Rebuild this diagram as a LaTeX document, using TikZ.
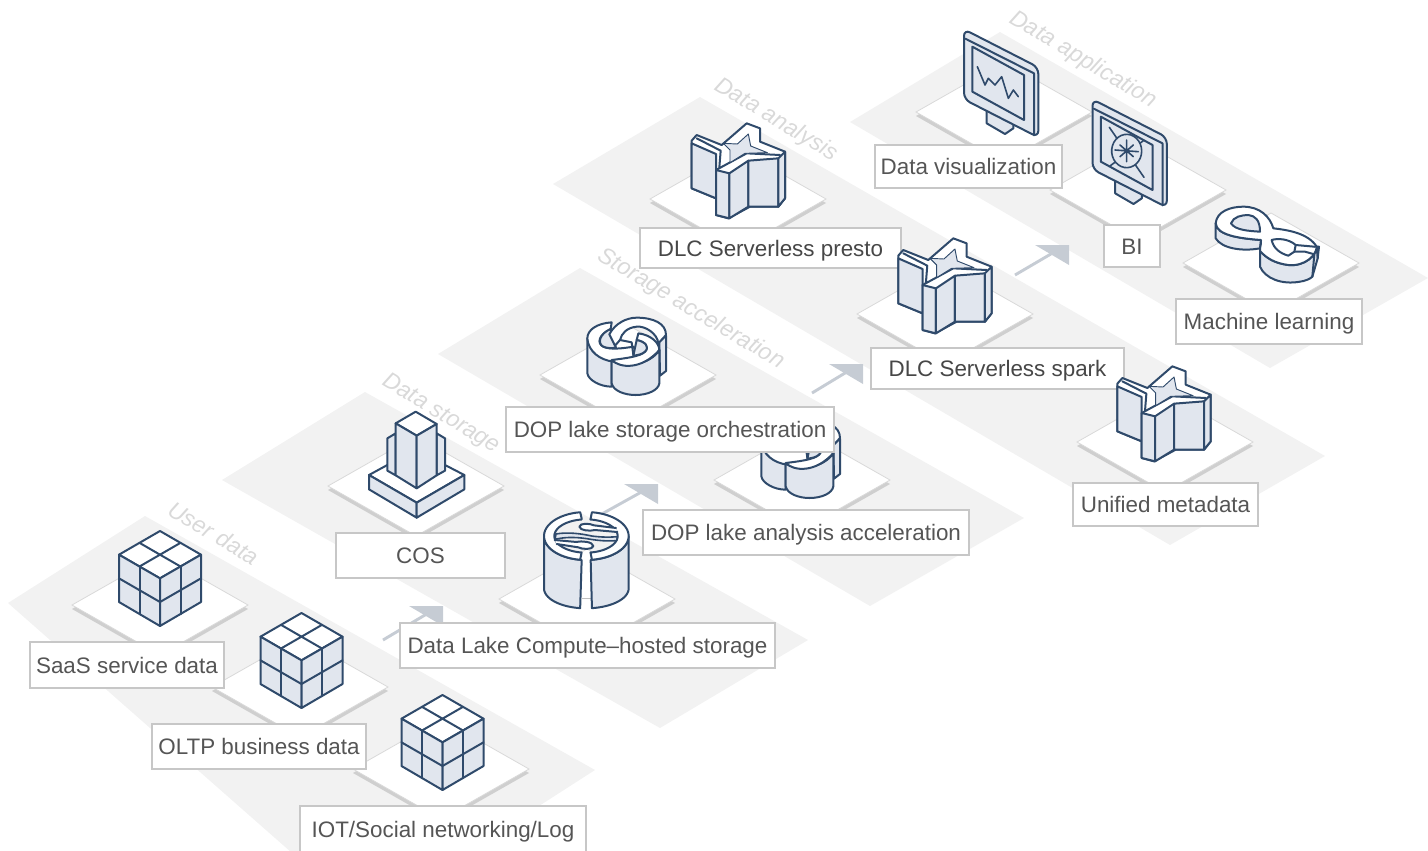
\documentclass[tikz,border=0pt]{standalone}
\usepackage{fontspec}
\setmainfont{Liberation Sans}
\definecolor{navy}{HTML}{2F4A6B}
\definecolor{face}{HTML}{E1E6EE}
\definecolor{band}{HTML}{F2F2F2}
\definecolor{flowc}{HTML}{C6CCD4}
\definecolor{shadowc}{HTML}{CFCFCF}
\definecolor{txt}{HTML}{555555}
\definecolor{bandtxt}{HTML}{D9D9D9}
\newcommand\lab[6]{\node[lbl,minimum width={(#4-#2)*.75pt},minimum height={(#5-#3)*.75pt}] (#1) at ({(#2+#4)/2},{(#3+#5)/2}) {#6};}
\newcommand\blab[6]{\node[lbl,text=black!72,minimum width={(#4-#2)*.75pt},minimum height={(#5-#3)*.75pt}] (#1) at ({(#2+#4)/2},{(#3+#5)/2}) {#6};}
\tikzset{
  lbl/.style={draw=black!22,line width=.9pt,fill=white,inner sep=0pt,outer sep=0pt,text=txt,text height=12pt,text depth=0pt,font=\fontsize{16.8pt}{18pt}\selectfont},
  bandlbl/.style={text=bandtxt,font=\fontsize{17.4pt}{19pt}\selectfont\itshape,rotate=-31,inner sep=0pt},
  ic/.style={draw=navy,line width=1.5pt,line join=round,line cap=round},
  flowline/.style={draw=flowc,line width=2.2pt},
  flowhead/.style={fill=flowc},
  zoomed/.style={x=.25pt,y=-.25pt},
  arcs/.style={domain=#1,samples=30,variable=\t},
  tile/.pic={
    \fill[shadowc] (-88,4)--(0,-46)--(88,4)--(0,54)--cycle;
    \fill[white,draw=black!15,line width=.6pt] (-88,0)--(0,-50)--(88,0)--(0,50)--cycle;
  },
  cube/.pic={\begin{scope}[zoomed]
    \path[ic,fill=white] (0,0)--(123,71)--(0,142)--(-123,71)--cycle;
    \path[ic,fill=face] (-123,71)--(0,142)--(0,285)--(-123,213)--cycle;
    \path[ic,fill=face] (123,71)--(0,142)--(0,285)--(123,213)--cycle;
    \draw[ic] (-61.5,35.5)--(61.5,106.5) (61.5,35.5)--(-61.5,106.5);
    \draw[ic] (-61.5,106.5)--(-61.5,249) (61.5,106.5)--(61.5,249);
    \draw[ic] (-123,142)--(0,213)--(123,142);
  \end{scope}},
  cos/.pic={\begin{scope}[zoomed]
    \path[ic,fill=white] (42,225)--(97,195)--(270,195)--(328,225)--(185,308)--cycle;
    \path[ic,fill=face] (42,225)--(185,308)--(185,353)--(42,268)--cycle;
    \path[ic,fill=face] (328,225)--(185,308)--(185,353)--(328,268)--cycle;
    \path[ic,fill=face] (97,115)--(122,100)--(122,226)--(97,212)--cycle;
    \path[ic,fill=face] (245,100)--(270,115)--(270,212)--(245,226)--cycle;
    \path[ic,fill=white] (182,35)--(245,72)--(185,107)--(122,70)--cycle;
    \path[ic,fill=face] (122,70)--(185,107)--(185,265)--(122,226)--cycle;
    \path[ic,fill=face] (245,72)--(185,107)--(185,265)--(245,226)--cycle;
  \end{scope}},
  cyl/.pic={\begin{scope}[zoomed]
    \draw[black!25,line width=.8pt] (155,296)--(182,296);
    \path[ic,fill=face] (42,108)--(42,265)--plot[arcs=180:98] ({168+126*cos(\t)},{265+60*sin(\t)})--(155,180)--plot[arcs=98:180] ({168+126*cos(\t)},{108+72*sin(\t)})--cycle;
    \path[ic,fill=face] (296,108)--(296,265)--plot[arcs=0:82] ({168+128*cos(\t)},{265+60*sin(\t)})--(182,180)--plot[arcs=82:0] ({168+128*cos(\t)},{108+72*sin(\t)})--cycle;
    \path[ic,fill=white] plot[arcs=98:262] ({168+126*cos(\t)},{108+72*sin(\t)})--(155,55)--plot[arcs=262:98] ({168+95*cos(\t)},{108+50*sin(\t)})--cycle;
    \path[ic,fill=white] plot[arcs=-82:82] ({168+128*cos(\t)},{108+72*sin(\t)})--(182,160)--plot[arcs=82:-82] ({168+95*cos(\t)},{108+50*sin(\t)})--cycle;
    \path[ic,fill=face,line width=1.2pt] (78,102)..controls(110,96)and(150,100)..(185,108)..controls(215,112)and(240,112)..(262,110)--(260,122)..controls(230,124)and(205,122)..(170,116)..controls(130,110)and(100,112)..(75,118)--cycle;
    \path[ic,fill=white] (262,96)--(195,90)..controls(180,94)and(150,92)..(148,80)..controls(150,68)and(180,70)..(192,76)--(258,84);
    \path[ic,fill=white] (74,120)--(140,126)..controls(155,122)and(188,125)..(190,138)..controls(188,150)and(155,148)..(145,142)--(80,132);
  \end{scope}},
  swirl/.pic={\begin{scope}[zoomed]
    \path[ic,fill=face] (268,110)--(288,92)--(288,198)--(270,212)--cycle;
    \path[ic,fill=face] (52,100)--(52,205)..controls(55,225)and(90,245)..(125,245)--(125,160)..controls(90,155)and(55,130)..(52,100)--cycle;
    \path[ic,fill=face] (125,165)--(125,235)..controls(130,258)and(165,270)..(196,270)..controls(235,270)and(265,255)..(268,235)--(268,135)..controls(240,180)and(165,190)..(125,165)--cycle;
    \path[ic,fill=white] (125,52)..controls(80,55)and(52,75)..(52,100)..controls(55,140)and(90,165)..(130,170)..controls(160,172)and(190,165)..(205,150)--(190,125)..controls(160,130)and(120,135)..(100,125)..controls(80,115)and(85,90)..(122,72)--cycle;
    \path[ic,fill=face] (122,72)..controls(90,85)and(80,115)..(100,125)..controls(112,130)and(125,130)..(138,128)--(125,95)--cycle;
    \path[ic,fill=white] (125,165)..controls(150,190)and(215,195)..(268,135)..controls(268,115)and(245,90)..(205,85)--(200,105)..controls(225,110)and(240,125)..(225,140)..controls(210,155)and(165,160)..(125,165)--cycle;
    \path[ic,fill=face] (200,105)..controls(225,110)and(240,125)..(225,140)..controls(215,148)and(205,150)..(190,152)--cycle;
    \path[ic,fill=white] (118,88)..controls(135,55)and(170,38)..(200,38)..controls(250,38)and(288,55)..(288,90)--(265,115)..controls(262,85)and(225,62)..(200,65)..controls(170,68)and(155,85)..(150,105)--(135,122)--cycle;
    \draw[ic] (150,105)--(185,112)--(190,150);
  \end{scope}},
  star/.pic={\begin{scope}[zoomed]
    \path[ic,fill=white] (35,92)--(50,75)--(125,105)--(200,40)--(240,55)--(240,95)--(315,125)--(315,265)--(295,290)--(210,290)--(145,325)--(108,315)--(108,265)--(35,235)--cycle;
    \path[ic,fill=face] (35,100)--(108,132)--(108,265)--(35,235)--cycle;
    \path[ic,fill=face] (108,180)--(148,190)--(148,325)--(108,315)--cycle;
    \path[ic,fill=face] (148,190)--(205,152)--(205,290)--(148,325)--cycle;
    \path[ic,fill=face] (205,152)--(295,145)--(295,290)--(205,290)--cycle;
    \path[ic,fill=face] (295,145)--(315,125)--(315,265)--(295,290)--cycle;
    \draw[ic] (50,85)--(122,122)--(118,172) (108,180)--(200,130)--(300,135);
    \path[fill=face,draw=navy,line width=.7pt,line join=round] (130,100)--(172,102)--(205,72)--(212,108)--(262,128)--(195,130)--(150,158)--(150,120)--cycle;
  \end{scope}},
  monitor/.pic={\begin{scope}[zoomed]
    \path[ic,fill=face] (110,270)--(110,310)--(165,342)--(190,325)--(190,290)--cycle;
    \path[ic,rounded corners=5pt,fill=face] (42,100)--(42,28)--(265,142)--(265,352)--(42,238)--cycle;
    \draw[ic] (46,56)--(252,160)--(252,346);
    \path[ic] (67,80)--(222,165)--(222,300)--(67,215)--cycle;
  \end{scope}},
  chart/.pic={\begin{scope}[zoomed]
    \draw[ic,line width=1.2pt] (82,140)--(105,195)--(115,175)--(135,195)--(155,170)--(175,235)--(190,210)--(205,230);
  \end{scope}},
  bichart/.pic={\begin{scope}[zoomed]
    \draw[ic,line width=1.2pt] (88,112)--(192,262) (190,152)--(90,228);
    \path[ic,line width=1.2pt,fill=face] plot[arcs=0:360] ({140+45*cos(\t)},{183+50*sin(\t)})--cycle;
    \draw[ic,line width=1.2pt] (120,165)--(160,200) (160,165)--(120,200) (140,150)--(140,215) (105,180)--(175,185);
  \end{scope}},
  loop/.pic={\begin{scope}[zoomed]
    \path[ic,fill=face] (32,85)--(32,130)..controls(50,160)and(110,170)..(165,160)--(168,135)..controls(100,130)and(35,120)..(32,85)--cycle;
    \path[ic,fill=face] (165,168)--(165,215)..controls(180,250)and(230,270)..(285,260)..controls(300,258)and(315,252)..(322,245)--(338,190)--(335,155)..controls(335,180)and(300,215)..(250,210)..controls(210,205)and(185,190)..(165,168)--cycle;
    \path[ic,fill=white] (32,85)..controls(35,50)and(75,35)..(115,35)..controls(165,35)and(195,65)..(205,100)..controls(250,105)and(310,115)..(335,155)..controls(335,180)and(300,215)..(250,210)..controls(210,205)and(185,190)..(165,168)..controls(165,150)and(170,145)..(168,135)..controls(100,130)and(35,120)..(32,85)--cycle;
    \path[ic,fill=face] (78,85)..controls(85,65)and(110,60)..(130,60)..controls(150,62)and(165,75)..(165,110)..controls(130,108)and(90,105)..(78,85)--cycle;
    \path[ic,fill=white] (200,135)..controls(215,130)and(250,130)..(272,150)--(268,170)--(250,182)..controls(225,175)and(205,160)..(200,135)--cycle;
    \draw[ic] (272,150)--(328,155) (268,170)--(300,170)--(328,178)--(322,245);
    \draw[ic] (328,155)--(342,155)--(338,190);
  \end{scope}}
}
\begin{document}
\begin{tikzpicture}[x=.75pt,y=-.75pt]
\useasboundingbox (0,0) rectangle (1428,850);
\clip (0,0) rectangle (1428,850);
% bands
\fill[band] (8,603)--(145,516)--(595,770)--(455,860)--(300,860)--cycle;
\fill[band] (222,480)--(365,392)--(808,640)--(660,728)--cycle;
\fill[band] (438,354)--(580,268)--(1024,518)--(870,606)--cycle;
\fill[band] (553,184)--(700,97)--(1325,456)--(1170,545)--cycle;
\fill[band] (850,122)--(1000,32)--(1428,278)--(1270,368)--cycle;
\node[bandlbl] (ud) at (214,533) {User data};
\node[bandlbl] (ds) at (441,414) {Data storage};
\node[bandlbl] (sa) at (691,309) {Storage acceleration};
\node[bandlbl] (da) at (776,120) {Data analysis};
\node[bandlbl] (dp) at (1083,60) {Data application};
% flow arrows
\coordinate (a1s) at (383,640); \coordinate (a1e) at (430,612);
\coordinate (a2s) at (600,515); \coordinate (a2e) at (645,490);
\coordinate (a3s) at (812,393); \coordinate (a3e) at (850,370);
\coordinate (a4s) at (1015,275); \coordinate (a4e) at (1056,251);
\foreach \s/\e in {a1s/a1e,a2s/a2e,a3s/a3e,a4s/a4e}{\draw[flowline] (\s)--(\e);
  \fill[flowhead] (\e)++(13,-6)--++(-34,0)--++(34,20)--cycle;}
% user data
\pic at (160,605) {tile};
\pic at (300,687) {tile};
\pic at (441,769) {tile};
\pic at (160,531) {cube};
\pic at (301.5,613) {cube};
\pic at (442.5,695) {cube};
\lab{saas}{30}{642}{224}{688}{SaaS service data}
\lab{oltp}{152}{724}{366}{769}{OLTP business data}
\lab{iot}{300}{806}{586}{852}{IOT/Social networking/Log}
% data storage
\pic at (416,486) {tile};
\pic at (587,599) {tile};
\pic at (355,400) {cos};
\pic at (530,500) {cyl};
\lab{cosl}{336}{533}{505}{578}{COS}
\lab{host}{400}{623}{775}{668}{Data Lake Compute–hosted storage}
% storage acceleration
\pic at (628,375) {tile};
\pic at (802,480) {tile};
\pic at (744,408) {swirl};
\pic at (570,305) {swirl};
\lab{anal}{643}{510}{969}{555}{DOP lake analysis acceleration}
\lab{orch}{506}{407}{834}{452}{DOP lake storage orchestration}
% data analysis
\pic at (738,199) {tile};
\pic at (945,314) {tile};
\pic at (1165,442) {tile};
\pic at (680,110) {star};
\blab{presto}{640}{228}{901}{268}{DLC Serverless presto}
\pic at (886.6,225) {star};
\blab{spark}{871}{348}{1124}{389}{DLC Serverless spark}
\pic at (1105.7,353) {star};
\lab{meta}{1073}{483}{1258}{526}{Unified metadata}
% data application
\pic at (1004,112) {tile};
\pic at (1138,190) {tile};
\pic at (1271,263) {tile};
\pic at (950,20) {monitor};
\pic at (950,20) {chart};
\pic at (1078.5,90) {monitor};
\pic at (1080,90) {bichart};
\pic at (1205,195) {loop};
\lab{vis}{875}{145}{1062}{188}{Data visualization}
\lab{bi}{1104}{225}{1160}{267}{BI}
\lab{ml}{1176}{299}{1362}{344}{Machine learning}
\end{tikzpicture}
\end{document}
